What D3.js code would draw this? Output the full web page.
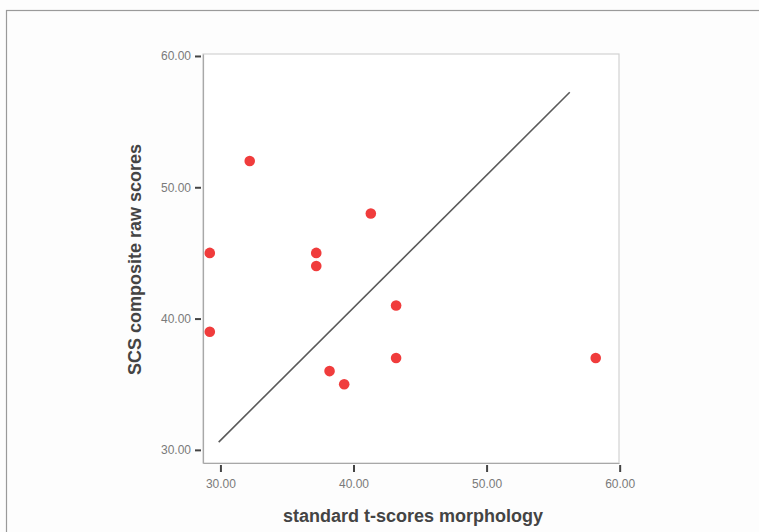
<!DOCTYPE html>
<html>
<head>
<meta charset="utf-8">
<script src="https://cdn.jsdelivr.net/npm/d3@7"></script>
<style>
  html, body { margin: 0; padding: 0; background: #fdfdfd; }
  svg { display: block; }
  text { font-family: "Liberation Sans", Arial, sans-serif; }
</style>
</head>
<body>
<svg id="chart" width="759" height="532"></svg>
<script>
// Morphology t-scores against SCS composite raw scores
const morphology = [29.2, 29.2, 32.2, 37.2, 37.2, 41.3, 43.2, 43.2, 38.2, 39.3, 58.2];
const scsScores  = [45, 39, 52, 45, 44, 48, 41, 37, 36, 35, 37];

// Fit line end points
const fitX = [29.87, 56.25];
const fitY = [30.59, 57.24];

const xTicks = [30, 40, 50, 60];
const yTicks = [30, 40, 50, 60];

const xTitle = "standard t-scores morphology";
const yTitle = "SCS composite raw scores";

const svg = d3.select("#chart");
const W = 759, H = 532;

// outer frame
svg.append("rect")
  .attr("x", 6.5).attr("y", 10.5)
  .attr("width", W + 10).attr("height", H + 10)
  .attr("fill", "#fdfdfd")
  .attr("stroke", "#9a9a9a").attr("stroke-width", 1.2);

const plot = { left: 203, right: 619, top: 54, bottom: 463 };

const x = d3.scaleLinear().domain([28.69, 59.95]).range([plot.left, plot.right]);
const y = d3.scaleLinear().domain([29.0, 60.15]).range([plot.bottom, plot.top]);

// plot frame
svg.append("rect")
  .attr("x", plot.left).attr("y", plot.top)
  .attr("width", plot.right - plot.left).attr("height", plot.bottom - plot.top)
  .attr("fill", "#ffffff")
  .attr("stroke", "#d2d2d2").attr("stroke-width", 1.2);

// x axis
const xAxis = svg.append("g")
  .attr("transform", `translate(0,${plot.bottom})`)
  .call(d3.axisBottom(x).tickValues(xTicks).tickFormat(d3.format(".2f"))
    .tickSizeInner(0).tickSizeOuter(0).tickPadding(16));
xAxis.select(".domain").attr("stroke", "#a8a8a8").attr("stroke-width", 1.2);
xAxis.selectAll(".tick").append("line")
  .attr("y1", 2).attr("y2", 9)
  .attr("stroke", "#444").attr("stroke-width", 2);
xAxis.selectAll(".tick text")
  .attr("fill", "#7a7a7a").attr("font-size", 12);

// y axis
const yAxis = svg.append("g")
  .attr("transform", `translate(${plot.left},0)`)
  .call(d3.axisLeft(y).tickValues(yTicks).tickFormat(d3.format(".2f"))
    .tickSizeInner(0).tickSizeOuter(0).tickPadding(12));
yAxis.select(".domain").attr("stroke", "#a8a8a8").attr("stroke-width", 1.2);
yAxis.selectAll(".tick").append("line")
  .attr("x1", -8).attr("x2", -2)
  .attr("stroke", "#444").attr("stroke-width", 2);
yAxis.selectAll(".tick text")
  .attr("fill", "#7a7a7a").attr("font-size", 12);

// fit line
svg.append("line")
  .attr("x1", x(fitX[0])).attr("y1", y(fitY[0]))
  .attr("x2", x(fitX[1])).attr("y2", y(fitY[1]))
  .attr("stroke", "#5a5a5a").attr("stroke-width", 1.6);

// points
svg.append("g").selectAll("circle")
  .data(morphology.map((m, i) => [m, scsScores[i]]))
  .join("circle")
  .attr("cx", d => x(d[0]))
  .attr("cy", d => y(d[1]))
  .attr("r", 5.3)
  .attr("fill", "#f03c3c");

// axis titles
svg.append("text")
  .attr("x", (plot.left + plot.right) / 2 + 2)
  .attr("y", 521.5)
  .attr("text-anchor", "middle")
  .attr("font-size", 18).attr("font-weight", "bold")
  .attr("fill", "#444")
  .text(xTitle);

svg.append("text")
  .attr("transform", `translate(141,${(plot.top + plot.bottom) / 2 + 1}) rotate(-90)`)
  .attr("text-anchor", "middle")
  .attr("font-size", 18).attr("font-weight", "bold")
  .attr("fill", "#444")
  .text(yTitle);
</script>
</body>
</html>
